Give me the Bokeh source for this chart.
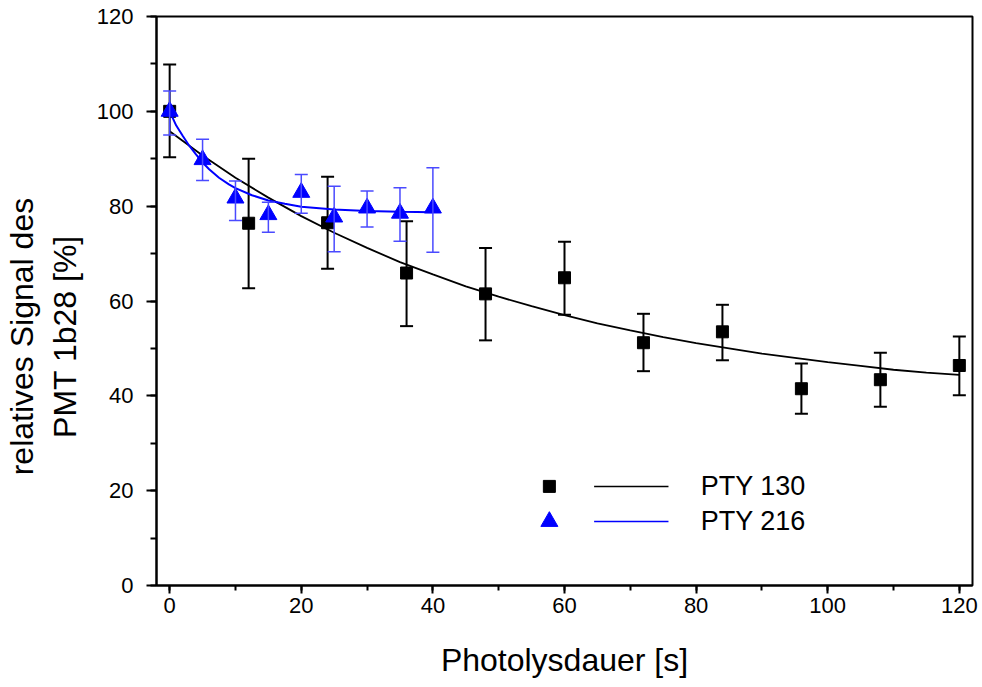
from bokeh.plotting import figure
from bokeh.models import (ColumnDataSource, Whisker, TeeHead, Range1d,
                          SingleIntervalTicker)
from bokeh.core.properties import value
from bokeh.embed import file_html
from bokeh.resources import INLINE

# ---- data: PTY 130 (black squares) ----
x130 = [0, 12, 24, 36, 48, 60, 72, 84, 96, 108, 120]
y130 = [100, 76.4, 76.5, 65.9, 61.5, 64.9, 51.2, 53.5, 41.5, 43.4, 46.4]
up130 = [109.9, 90.0, 86.2, 76.8, 71.2, 72.5, 57.3, 59.2, 46.8, 49.1, 52.5]
lo130 = [90.3, 62.7, 66.8, 54.7, 51.7, 57.1, 45.2, 47.5, 36.2, 37.7, 40.1]

# ---- data: PTY 216 (blue triangles) ----
x216 = [0, 5, 10, 15, 20, 25, 30, 35, 40]
y216 = [100, 89.8, 81.7, 78.2, 82.9, 77.7, 79.6, 78.5, 79.6]
up216 = [104.3, 94.1, 85.3, 80.8, 86.7, 84.2, 83.2, 83.9, 88.1]
lo216 = [95.0, 85.4, 77.0, 74.5, 78.5, 70.4, 75.6, 72.6, 70.3]

# ---- fitted curves ----
fit130_x = [0, 5, 10, 15, 20, 25, 30, 35, 40, 45, 50, 55, 60, 65, 70, 75, 80,
            85, 90, 95, 100, 105, 110, 115, 120]
fit130_y = [95.8, 90.7, 86.0, 81.8, 77.9, 74.4, 71.2, 68.2, 65.6, 63.1, 60.9,
            58.9, 57.0, 55.3, 53.8, 52.4, 51.1, 50.0, 48.9, 48.0, 47.1, 46.3,
            45.5, 44.9, 44.4]
fit216_x = [0, 1, 2, 3, 4, 5, 6, 7.5, 9, 10, 12.5, 15, 17.5, 20, 25, 30, 35, 40]
fit216_y = [100, 97.0, 94.8, 92.7, 90.9, 89.2, 87.8, 86.0, 84.6, 83.8, 82.3,
            81.2, 80.5, 79.9, 79.3, 79.0, 78.8, 78.7]

legend_labels = ["PTY 130", "PTY 216"]
legend_y = [20.9, 13.5]
legend_marker_x = 57.7
legend_line_x = [64.5, 75.8]
legend_text_x = 80.7

y_label_lines = ["relatives Signal des", "PMT 1b28 [%]"]
x_label = "Photolysdauer [s]"

FONT = "Liberation Sans"
BLUE = "#0000ff"
BLUE_ERR = "#4a4aff"
NBSP = "\u00a0"
PAD = NBSP * 8   # shifts the centred y label towards the bottom, as in the original

p = figure(width=978, height=685, output_backend="svg", toolbar_location=None,
           x_range=Range1d(-2, 122), y_range=Range1d(0, 120),
           min_border_left=154, min_border_right=6, min_border_top=16,
           min_border_bottom=100)
p.grid.visible = False
p.outline_line_color = "black"
p.outline_line_width = 2
p.background_fill_color = "white"
p.border_fill_color = "white"

for ax in (p.xaxis[0], p.yaxis[0]):
    ax.ticker = SingleIntervalTicker(interval=20, num_minor_ticks=2)
    ax.axis_line_width = 2
    ax.major_tick_line_width = 2
    ax.minor_tick_line_width = 2
    ax.major_tick_in = 0
    ax.minor_tick_in = 0
    ax.major_label_text_font = FONT
    ax.major_label_text_font_size = "22px"
    ax.major_label_text_color = "black"
    ax.axis_label_text_font = FONT
    ax.axis_label_text_font_style = "normal"
    ax.axis_label_text_font_size = "32px"
    ax.axis_label_text_color = "black"

p.xaxis.major_tick_out = 8
p.xaxis.minor_tick_out = 5
p.yaxis.major_tick_out = 10
p.yaxis.minor_tick_out = 6
p.xaxis.major_label_standoff = 4
p.yaxis.major_label_standoff = 13
p.xaxis.axis_label = x_label
p.yaxis.axis_label = "\n".join(line + PAD for line in y_label_lines)
p.xaxis.axis_label_standoff = 26
p.yaxis.axis_label_standoff = 11

s130 = ColumnDataSource(dict(x=x130, y=y130, up=up130, lo=lo130))
s216 = ColumnDataSource(dict(x=x216, y=y216, up=up216, lo=lo216))

# fit lines
p.line(fit130_x, fit130_y, line_color="black", line_width=1.8)

w1 = Whisker(base="x", upper="up", lower="lo", source=s130,
             line_color="black", line_width=2,
             upper_head=TeeHead(size=13, line_color="black", line_width=2),
             lower_head=TeeHead(size=13, line_color="black", line_width=2))
p.add_layout(w1)
p.scatter("x", "y", source=s130, marker="square", size=12,
          fill_color="black", line_color="black")

p.line(fit216_x, fit216_y, line_color=BLUE, line_width=2)
w2 = Whisker(base="x", upper="up", lower="lo", source=s216,
             line_color=BLUE_ERR, line_width=1.5,
             upper_head=TeeHead(size=13, line_color=BLUE_ERR, line_width=1.5),
             lower_head=TeeHead(size=13, line_color=BLUE_ERR, line_width=1.5))
w2.level = "glyph"
p.add_layout(w2)
p.scatter("x", "y", source=s216, marker="triangle", size=17,
          fill_color=BLUE, line_color=BLUE)

# manual legend
p.scatter([legend_marker_x], [legend_y[0]], marker="square", size=12,
          fill_color="black", line_color="black")
p.scatter([legend_marker_x], [legend_y[1]], marker="triangle", size=17,
          fill_color=BLUE, line_color=BLUE)
p.line(legend_line_x, [legend_y[0]] * 2, line_color="black", line_width=1.5)
p.line(legend_line_x, [legend_y[1]] * 2, line_color=BLUE, line_width=1.5)
p.text([legend_text_x] * 2, legend_y, text=legend_labels,
       text_font=value(FONT), text_font_size="27px", text_baseline="middle",
       text_align="left", text_color="black")

open("out.html", "w").write(file_html(p, INLINE))
